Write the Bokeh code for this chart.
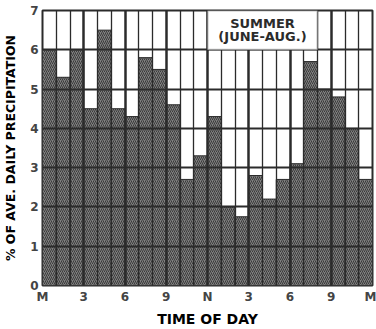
from bokeh.plotting import figure
from bokeh.models import Range1d, FixedTicker, Grid, BoxAnnotation, Label
from bokeh.embed import file_html
from bokeh.resources import INLINE

# ---- data ----
hours = list(range(24))
precip_pct = [6.0, 5.3, 6.0, 4.5, 6.5, 4.5, 4.3, 5.8, 5.5, 4.6, 2.7, 3.3,
              4.3, 2.0, 1.75, 2.8, 2.2, 2.7, 3.1, 5.7, 5.0, 4.8, 4.0, 2.7]
x_tick_pos = [0, 3, 6, 9, 12, 15, 18, 21, 24]
x_tick_labels = ["M", "3", "6", "9", "N", "3", "6", "9", "M"]
y_ticks = [0, 1, 2, 3, 4, 5, 6, 7]
season_title = ["SUMMER", "(JUNE-AUG.)"]

INK = "#2b2b2b"

p = figure(width=376, height=329, output_backend="svg", toolbar_location=None,
           x_range=Range1d(0, 24), y_range=Range1d(0, 7),
           min_border_left=41, min_border_right=4, min_border_top=10,
           min_border_bottom=43)
p.background_fill_color = "white"
p.border_fill_color = "white"
p.outline_line_color = INK
p.outline_line_width = 2

centers = [h + 0.5 for h in hours]
p.vbar(x=centers, width=1, top=precip_pct, bottom=0,
       fill_color="#808080", line_color=INK, line_width=1,
       hatch_pattern="/", hatch_color="#3a3a3a", hatch_scale=4, hatch_weight=1)

# grids drawn above bars
p.xgrid.ticker = FixedTicker(ticks=list(range(25)))
p.xgrid.grid_line_color = INK
p.xgrid.grid_line_width = 1.3
p.xgrid.level = "guide"
thick = Grid(dimension=0, ticker=FixedTicker(ticks=x_tick_pos),
             grid_line_color=INK, grid_line_width=2.4, level="guide")
p.add_layout(thick)
p.ygrid.ticker = FixedTicker(ticks=y_ticks)
p.ygrid.grid_line_color = INK
p.ygrid.grid_line_width = 2
p.ygrid.level = "guide"

# title box
box = BoxAnnotation(left=12, right=20, bottom=6, top=7, fill_color="white",
                    fill_alpha=1, line_color=INK, line_width=2, level="annotation")
p.add_layout(box)
for txt, yy in zip(season_title, [6.66, 6.33]):
    p.add_layout(Label(x=16, y=yy, text=txt, text_align="center",
                       text_baseline="middle", text_font="DejaVu Sans",
                       text_font_style="bold", text_font_size="13px",
                       text_color=INK, level="annotation"))

# axes
p.xaxis.ticker = FixedTicker(ticks=x_tick_pos)
p.xaxis.major_label_overrides = {t: l for t, l in zip(x_tick_pos, x_tick_labels)}
p.yaxis.ticker = FixedTicker(ticks=y_ticks)
for ax in (p.xaxis[0], p.yaxis[0]):
    ax.axis_line_color = None
    ax.major_tick_line_color = None
    ax.minor_tick_line_color = None
    ax.major_tick_out = 0
    ax.major_tick_in = 0
    ax.major_label_text_font = "DejaVu Sans"
    ax.major_label_text_font_style = "bold"
    ax.major_label_text_font_size = "12px"
    ax.major_label_text_color = "#444444"
    ax.axis_label_text_font = "DejaVu Sans"
    ax.axis_label_text_font_style = "bold"
    ax.axis_label_text_color = "black"

p.xaxis.axis_label = "TIME OF DAY"
p.xaxis.axis_label_text_font_size = "14px"
p.xaxis.major_label_standoff = 4
p.xaxis.axis_label_standoff = 4

p.yaxis.axis_label = "% OF AVE. DAILY PRECIPITATION"
p.yaxis.axis_label_text_font_size = "12.5px"
p.yaxis.major_label_standoff = 4
p.yaxis.axis_label_standoff = 9

open("out.html", "w").write(file_html(p, INLINE))
